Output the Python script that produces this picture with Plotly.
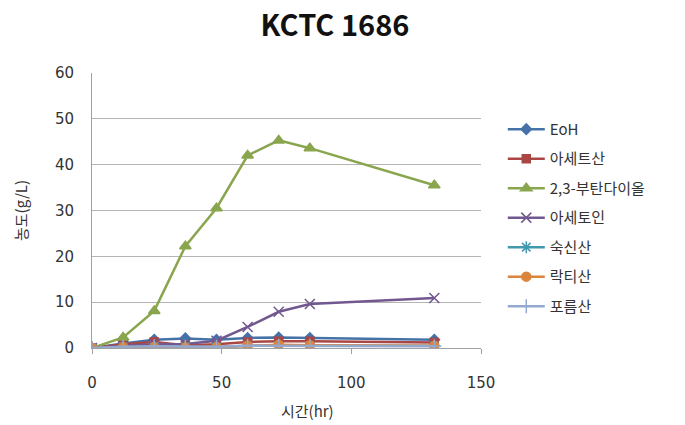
import plotly.graph_objects as go

time_hr = [0, 12, 24, 36, 48, 60, 72, 84, 132]
series_names = ["EoH", "아세트산", "2,3-부탄다이올", "아세토인", "숙신산", "락티산", "포름산"]
eoh = [0, 1.0, 1.8, 2.1, 1.8, 2.2, 2.3, 2.2, 1.8]
acetic = [0, 0.8, 1.3, 0.6, 0.8, 1.3, 1.5, 1.5, 1.2]
butanediol = [0, 2.3, 8.1, 22.2, 30.5, 42.0, 45.3, 43.6, 35.5]
acetoin = [0, 0.5, 0.8, 0.9, 1.6, 4.6, 7.9, 9.6, 10.9]
succinic = [0, 0.2, 0.3, 0.3, 0.2, 0.5, 0.5, 0.5, 0.5]
lactic = [0, 0.2, 0.2, 0.1, 0.2, 0.5, 0.7, 0.6, 0.5]
formic = [0, 0.3, 0.4, 0.3, 0.3, 0.5, 0.5, 0.5, 0.4]

values = [eoh, acetic, butanediol, acetoin, succinic, lactic, formic]
colors = ["#4572A7", "#AA4643", "#89A54E", "#71588F", "#4198AF", "#DB843D", "#93A9CF"]
symbols = ["diamond", "square", "triangle-up", "x-thin-open", "asterisk-open", "circle", "cross-thin-open"]
sizes = [8, 8, 10, 10, 10, 9, 10]

fig = go.Figure()
for i, (name, vals) in enumerate(zip(series_names, values)):
    fig.add_trace(go.Scatter(
        x=time_hr, y=vals, name=name, mode="lines+markers",
        line=dict(color=colors[i], width=2.5),
        marker=dict(symbol=symbols[i], size=sizes[i], color=colors[i],
                    line=dict(color=colors[i], width=1.5)),
        legendgroup=str(i),
    ))

kfont = "Noto Sans CJK KR, Noto Sans, sans-serif"
tfont = "DejaVu Sans, sans-serif"
fig.update_layout(
    width=685, height=425,
    margin=dict(l=92, r=204, t=73, b=77),
    paper_bgcolor="white", plot_bgcolor="white",
    font=dict(family=kfont, size=15, color="#333333"),
    title=dict(text="<b>KCTC 1686</b>", x=0.489, xanchor="center", y=0.94, yanchor="middle",
               font=dict(size=29, color="#111111", family=kfont)),
    showlegend=True,
    legend=dict(x=1.056, xanchor="left", y=0.855, yanchor="top", tracegroupgap=7,
                font=dict(size=15, color="#333333", family=kfont), bgcolor="rgba(0,0,0,0)",
                itemwidth=37),
    xaxis=dict(range=[0, 150], tickvals=[0, 50, 100, 150], showgrid=False,
               showline=True, linecolor="#A0A0A0", linewidth=1,
               ticks="outside", ticklen=5, tickcolor="#A0A0A0",
               ticklabelstandoff=16, zeroline=False,
               tickfont=dict(family=tfont, size=15, color="#333333")),
    yaxis=dict(range=[0, 60], tickvals=[0, 10, 20, 30, 40, 50, 60], showgrid=True,
               gridcolor="#B4B4B4", gridwidth=1, showline=True, linecolor="#A0A0A0",
               linewidth=1, zeroline=False, ticks="", ticklabelstandoff=14,
               tickfont=dict(family=tfont, size=15, color="#333333")),
    annotations=[
        dict(text="시간(hr)", xref="paper", yref="paper", x=0.553, y=-62 / 275,
             xanchor="center", yanchor="middle", showarrow=False,
             font=dict(size=15, family=kfont, color="#333333")),
        dict(text="농도(g/L)", xref="paper", yref="paper", x=-72 / 389, y=(348 - 211) / 275,
             xanchor="center", yanchor="middle", showarrow=False, textangle=-90,
             font=dict(size=15, family=kfont, color="#333333")),
    ],
)

fig.write_html("out.html")
